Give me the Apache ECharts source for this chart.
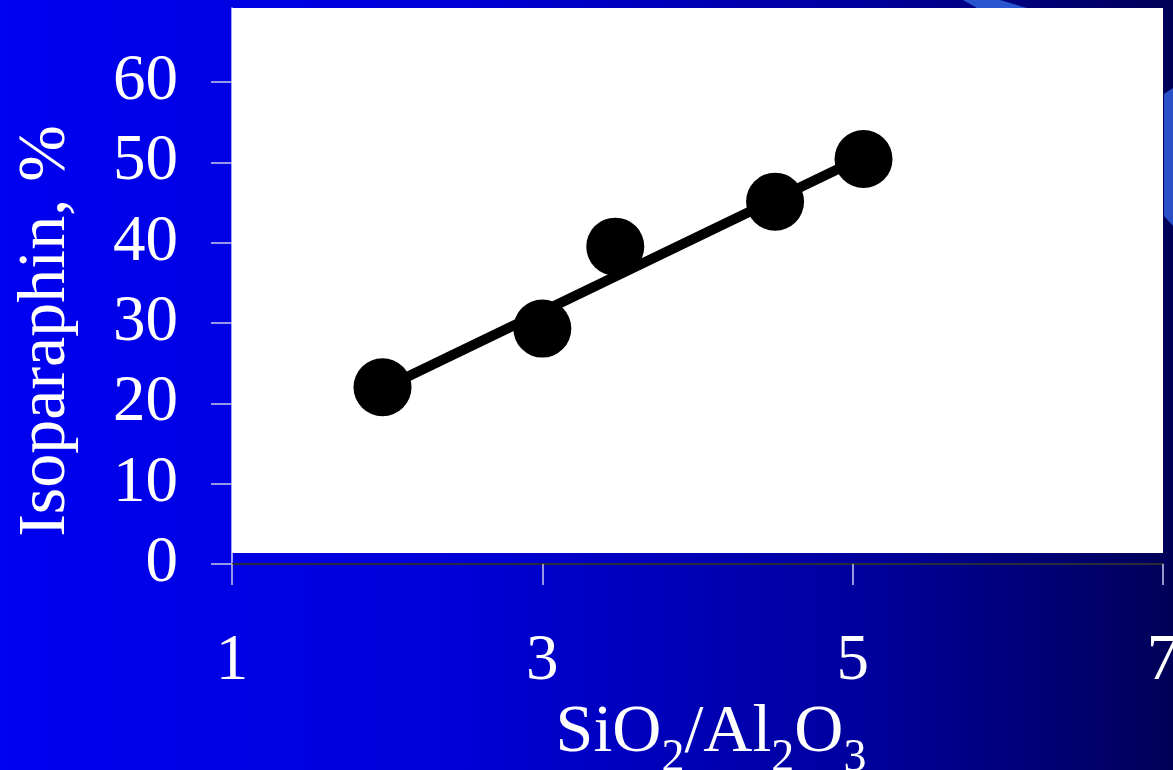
<!DOCTYPE html>
<html>
<head>
<meta charset="utf-8">
<script src="https://cdn.jsdelivr.net/npm/echarts@6/dist/echarts.min.js"></script>
<style>
html,body{margin:0;padding:0;background:#0000c0;overflow:hidden;}
#chart{width:1173px;height:770px;}
</style>
</head>
<body>
<div id="chart"></div>
<script>
// Data
var ratioSiAl = [1.97, 3.0, 3.47, 4.5, 5.07];
var isoparaphin = [22.0, 29.3, 39.5, 45.1, 50.4];
var trendX = [1.97, 5.07];
var trendY = [21.8, 50.7];
var yTicks = [0, 10, 20, 30, 40, 50, 60];
var xTicks = [1, 3, 5, 7];

var points = ratioSiAl.map(function (x, i) { return [x, isoparaphin[i]]; });
var trend = trendX.map(function (x, i) { return [x, trendY[i]]; });

var FONT = '"Liberation Serif", "Times New Roman", serif';
var chart = echarts.init(document.getElementById('chart'), null, {renderer: 'canvas'});

var option = {
  animation: false,
  graphic: [
    {type: 'rect', z: -100, silent: true, shape: {x: 0, y: 0, width: 1173, height: 770},
     style: {fill: {type: 'linear', x: 0, y: 0, x2: 1, y2: 0, colorStops: [
       {offset: 0, color: '#0000F2'}, {offset: 0.4, color: '#0000D6'},
       {offset: 0.75, color: '#00009A'}, {offset: 1, color: '#000058'}]}}},
    {type: 'polygon', z: -90, silent: true, shape: {points: [[963, 0], [1000, 0], [1027, 8], [977, 8]]},
     style: {fill: '#2A55D0'}},
    {type: 'polygon', z: -90, silent: true, shape: {points: [[1164, 94], [1173, 88], [1173, 226], [1164, 216]]},
     style: {fill: '#2A50C8'}}
  ],
  grid: {left: 232, right: 10, top: 8, bottom: 206, containLabel: false, outerBoundsMode: 'none'},
  xAxis: {
    type: 'value', min: 1, max: 7, interval: 2,
    splitLine: {show: false},
    axisLine: {show: true, onZero: false, lineStyle: {color: '#2a2a3a', width: 2}},
    axisTick: {show: true, length: 21, lineStyle: {color: '#c8c8f0', width: 1.5}},
    axisLabel: {color: '#ffffff', fontFamily: FONT, fontSize: 65, margin: 65,
      formatter: function (v) { return xTicks.indexOf(v) >= 0 ? String(v) : ''; }},
    name: '{n|SiO}{s|2}{n|/Al}{s|2}{n|O}{s|3}',
    nameLocation: 'middle', nameGap: 113,
    nameTextStyle: {
      padding: [0, 0, 0, 27],
      rich: {
        n: {color: '#fff', fontFamily: FONT, fontSize: 68, lineHeight: 70, verticalAlign: 'top'},
        s: {color: '#fff', fontFamily: FONT, fontSize: 46, lineHeight: 120}
      }
    }
  },
  yAxis: {
    type: 'value', min: 0, max: 69.2,
    splitLine: {show: false},
    axisLine: {show: true, lineStyle: {color: '#d8d8ff', width: 1.5}},
    axisTick: {show: true, length: 21, customValues: yTicks, lineStyle: {color: '#c8c8f0', width: 1.5}},
    axisLabel: {color: '#ffffff', fontFamily: FONT, fontSize: 65, margin: 54, customValues: yTicks},
    name: 'Isoparaphin, %',
    nameLocation: 'middle', nameGap: 152, nameRotate: 90,
    nameTextStyle: {color: '#fff', fontFamily: FONT, fontSize: 68, padding: [0, 90, 0, 0]}
  },
  series: [
    {
      type: 'scatter', data: [], z: 1, silent: true,
      markArea: {silent: true, itemStyle: {color: '#ffffff', borderWidth: 0},
        data: [[{xAxis: 1, yAxis: 1.37}, {xAxis: 7.006, yAxis: 69.2}]]}
    },
    {
      type: 'line', data: trend, z: 3, showSymbol: false, symbol: 'none', silent: true,
      lineStyle: {color: '#000', width: 10}
    },
    {
      type: 'scatter', data: points, z: 4, symbol: 'circle', symbolSize: 58, silent: true,
      itemStyle: {color: '#000', opacity: 1}
    }
  ]
};
chart.setOption(option);
</script>
</body>
</html>
